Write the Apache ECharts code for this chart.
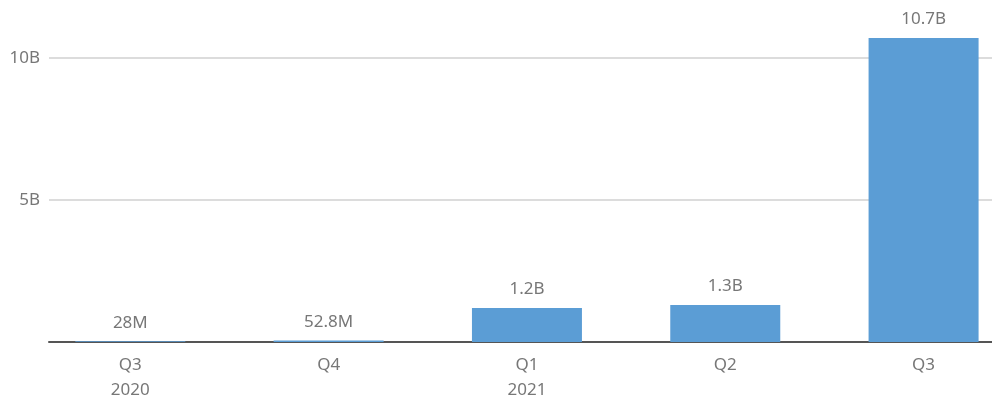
<!DOCTYPE html>
<html><head><meta charset="utf-8">
<script src="https://cdn.jsdelivr.net/npm/echarts@6/dist/echarts.min.js"></script>
<style>html,body{margin:0;padding:0;background:#fff}#c{width:992px;height:403px}</style>
</head><body><div id="c"></div>
<script>
var categories = ['Q3\n2020', 'Q4', 'Q1\n2021', 'Q2', 'Q3'];
var values = [28e6, 52.8e6, 1.2e9, 1.3e9, 10.7e9];
var valueLabels = ['28M', '52.8M', '1.2B', '1.3B', '10.7B'];
var yTickLabels = {0: '', 5e9: '5B', 10e9: '10B'};

var chart = echarts.init(document.getElementById('c'), null, {renderer: 'canvas'});
var font = '"Noto Sans", "Open Sans", sans-serif';
chart.setOption({
  animation: false,
  grid: {left: 49, right: 0, top: 1, bottom: 61, containLabel: false},
  xAxis: {
    type: 'value', min: -0.41, max: 4.345,
    splitLine: {show: false},
    axisTick: {show: false},
    axisLine: {show: true, onZero: true, lineStyle: {color: '#555', width: 2}},
    axisLabel: {
      customValues: [0, 1, 2, 3, 4],
      formatter: function (v) { return categories[Math.round(v)]; },
      color: '#777', fontFamily: font, fontSize: 17, lineHeight: 25, margin: 11
    }
  },
  yAxis: {
    type: 'value', min: 0, max: 12e9, interval: 5e9,
    axisLine: {show: false}, axisTick: {show: false},
    splitLine: {show: true, showMaxLine: false, lineStyle: {color: '#dcdcdc', width: 2}},
    axisLabel: {
      showMinLabel: false, showMaxLabel: false,
      formatter: function (v) { return yTickLabels[v] || ''; },
      color: '#777', fontFamily: font, fontSize: 17, margin: 9
    }
  },
  series: [{
    type: 'bar', barWidth: 110,
    data: values.map(function (v, i) { return [i, v]; }),
    itemStyle: {color: '#5b9dd5'},
    label: {
      show: true, position: 'top', distance: 10,
      formatter: function (p) { return valueLabels[p.dataIndex]; },
      color: '#777', fontFamily: font, fontSize: 17
    }
  }]
});
</script></body></html>
